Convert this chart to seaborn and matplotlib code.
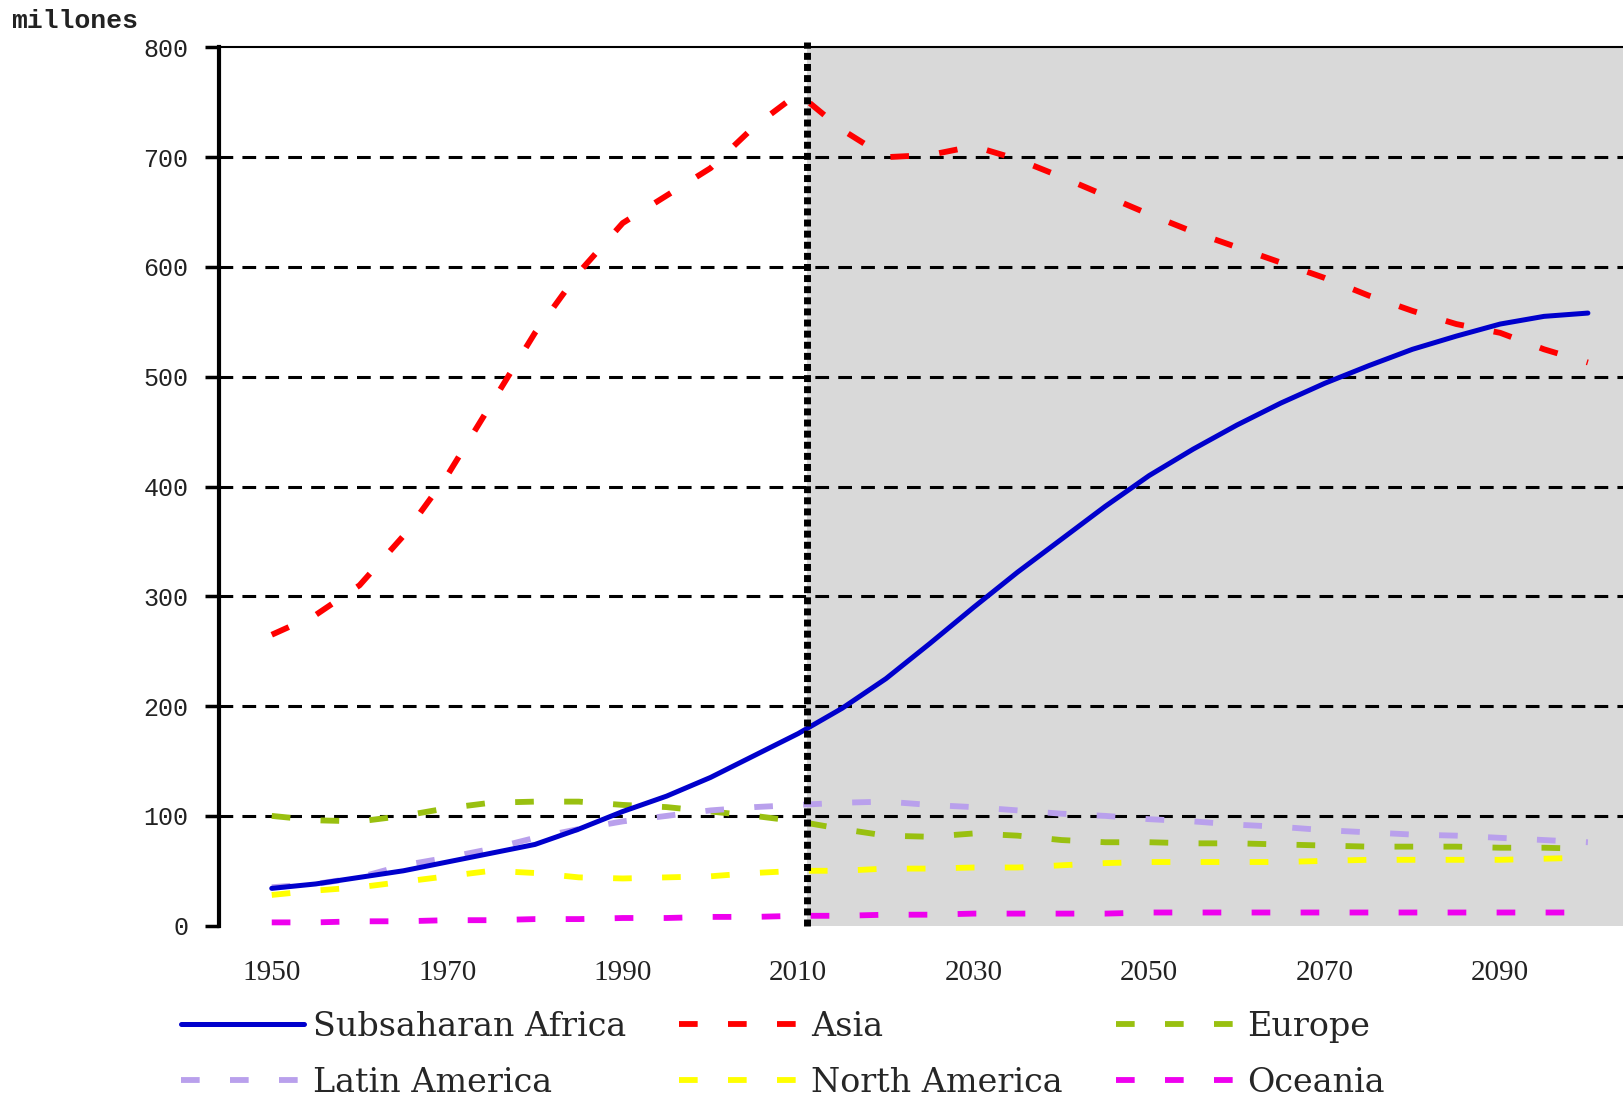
import numpy as np
import pandas as pd
import matplotlib
matplotlib.use("Agg")
import matplotlib.pyplot as plt
import seaborn as sns

# data (millions, every 5 years)
years = list(range(1950, 2101, 5))
africa = [34, 38, 44, 50, 58, 66, 74, 88, 104, 118, 135, 155, 175, 198, 225, 257,
          290, 322, 352, 382, 410, 434, 456, 476, 494, 510, 525, 537, 548, 555, 558]
asia = [265, 283, 310, 355, 410, 475, 540, 595, 640, 665, 690, 728, 758, 725, 700, 702,
        710, 698, 682, 665, 648, 632, 618, 604, 590, 574, 560, 548, 540, 525, 513]
europe = [100, 96, 95, 100, 107, 112, 113, 113, 110, 108, 104, 100, 95, 88, 82, 81,
          84, 82, 78, 76, 76, 75, 75, 74, 73, 72, 72, 72, 71, 71, 70]
latin = [35, 38, 44, 55, 62, 70, 80, 88, 95, 100, 105, 108, 110, 112, 113, 110,
         108, 105, 102, 100, 97, 95, 92, 90, 87, 85, 83, 82, 80, 78, 76]
namerica = [28, 32, 35, 40, 45, 50, 48, 44, 43, 44, 45, 48, 50, 50, 52, 52,
            53, 53, 55, 57, 58, 58, 58, 58, 59, 60, 60, 60, 60, 61, 62]
oceania = [3, 3, 4, 4, 5, 5, 6, 6, 7, 7, 8, 8, 9, 9, 10, 10,
           11, 11, 11, 11, 12, 12, 12, 12, 12, 12, 12, 12, 12, 12, 12]

labels = ["Subsaharan Africa", "Asia", "Europe", "Latin America", "North America", "Oceania"]
series = [africa, asia, europe, latin, namerica, oceania]
colors = ["#0000cc", "#ff0000", "#99c010", "#b9a0ec", "#ffff00", "#ee00ee"]
yticks = list(range(0, 801, 100))
xticks = list(range(1950, 2091, 20))
split_year = 2011

df = pd.DataFrame({"year": years})
for lab, vals in zip(labels, series):
    df[lab] = vals

sns.set_style("white")
plt.rcParams["font.family"] = ["Liberation Serif", "DejaVu Serif"]

fig = plt.figure(figsize=(16.23, 11.02), dpi=100)
ax = fig.add_axes([0.135, 0.16, 0.865, 0.797])

# projection period shading
ax.axvspan(split_year, 2104, color="#d9d9d9", zorder=0, lw=0)

# dashed gridlines
for v in yticks[1:-1]:
    ax.axhline(v, color="black", lw=2.2, linestyle=(0, (4.5, 3)), zorder=1)

handles = {}
for lab, col in zip(labels, colors):
    if lab == "Subsaharan Africa":
        sns.lineplot(data=df, x="year", y=lab, ax=ax, color=col, lw=3.6,
                     linestyle="-", zorder=5, legend=False)
    else:
        sns.lineplot(data=df, x="year", y=lab, ax=ax, color=col, lw=4.2,
                     linestyle=(0, (3.2, 5.2)), zorder=3, legend=False)
    handles[lab] = ax.lines[-1]

# vertical divider
ax.plot([split_year, split_year], [0, 805], color="black", lw=5,
        linestyle=(0, (1, 0.6)), zorder=6, clip_on=False)

ax.set_xlim(1944, 2104)
ax.set_ylim(0, 800)
ax.set_xticks(xticks)
ax.set_yticks(yticks)
ax.set_xlabel("")
ax.set_ylabel("")
for lbl in ax.get_yticklabels():
    lbl.set_fontfamily("Liberation Mono")
ax.tick_params(axis="y", length=10, width=2.5, pad=12, labelsize=18, colors="black",
               labelcolor="#222222", direction="out", left=True)
ax.tick_params(axis="x", length=0, pad=25, labelsize=21, labelcolor="#222222")

for s in ["right", "bottom"]:
    ax.spines[s].set_visible(False)
ax.spines["left"].set_linewidth(3)
ax.spines["left"].set_color("black")
ax.spines["top"].set_linewidth(1.5)
ax.spines["top"].set_color("black")

fig.text(0.007, 0.981, "millones", fontsize=19, family="Liberation Mono",
         ha="left", va="center", color="#222222", weight="bold")

order = ["Subsaharan Africa", "Latin America", "Asia", "North America", "Europe", "Oceania"]
fig.legend([handles[k] for k in order], order, ncol=3, loc="center left",
           bbox_to_anchor=(0.093, 0.043), frameon=False, handlelength=3.7,
           handletextpad=0.25, columnspacing=1.6, labelspacing=0.72,
           prop={"family": "DejaVu Serif", "size": 24})

fig.savefig("out.png", dpi=100)
